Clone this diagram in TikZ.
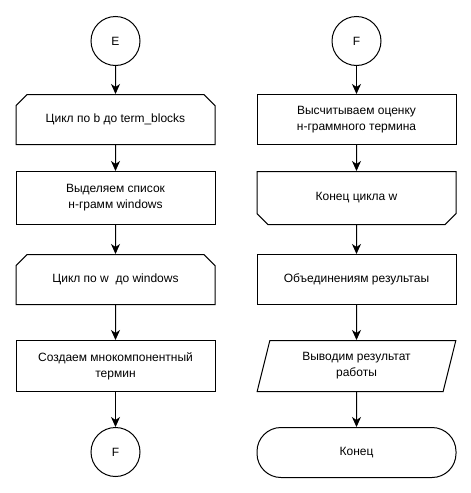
\documentclass[tikz,border=0pt]{standalone}
\usepackage{fontspec}
\setmainfont{Liberation Sans}
\usetikzlibrary{arrows.meta,positioning,shapes.misc,shapes.geometric}
\tikzset{
    %Define standard arrow tip
    >={Stealth[length=10pt,width=9pt,inset=3pt]},
    %Define style for boxes
    punkt/.style={
		rectangle,
		draw=black, line width=1pt,
		minimum width=199pt,
		minimum height=50pt,
		inner sep=2pt,
		align=center,
		font=\fontsize{12}{16}\selectfont},
	%Connector circles
	conn/.style={
		circle,
		draw=black, line width=1pt,
		minimum size=49pt,
		inner sep=0pt,
		font=\fontsize{12}{16}\selectfont},
	%Loop start and loop end
	loopstart/.style={
		punkt,
		chamfered rectangle,
		chamfered rectangle corners={north west,north east},
		chamfered rectangle xsep=9pt},
	loopend/.style={
		punkt,
		chamfered rectangle,
		chamfered rectangle corners={south west,south east},
		chamfered rectangle xsep=9pt},
	%Input/output
	io/.style={
		punkt,
		trapezium,
		trapezium left angle=75,
		trapezium right angle=105,
		trapezium stretches=true},
	%Terminal
	term/.style={
		punkt,
		rounded corners=24pt},
	line/.style = {
		draw,
		line width=1pt,
		->}
}

\begin{document}
\begin{tikzpicture}
			\useasboundingbox (0,0) rectangle (471pt,-493pt);
			% left column
			\node[conn] (E) at (115.5pt,-41pt) {E};
			\node[loopstart, below=28pt of E]	(blocks)	{Цикл по b до term\_blocks};
			\node[punkt, below=26pt of blocks, minimum height=53pt]	(windows)	{Выделяем список\\ н-грамм windows};
			\node[loopstart, below=29pt of windows]	(loopw)	{Цикл по w~ до windows};
			\node[punkt, below=35pt of loopw, minimum height=51pt]	(term)	{Создаем мнокомпонентный\\термин};
			\node[conn, below=35pt of term]	(Fout)	{F};
			% right column
			\node[conn, right=191pt of E]	(Fin)	{F};
			\node[punkt, below=28pt of Fin]	(score)	{Высчитываем оценку\\н-граммного термина};
			\node[loopend, below=26pt of score, minimum height=53pt]	(endw)	{Конец цикла w};
			\node[punkt, below=29pt of endw]	(merge)	{Объединениям результаы};
			\node[io, below=35pt of merge, minimum height=51pt]	(output)	{Выводим результат\\работы};
			\node[term, below=35pt of output]	(stop)	{Конец};
			\path[line]	(E)--(blocks);
			\path[line]	(blocks)--(windows);
			\path[line]	(windows)--(loopw);
			\path[line]	(loopw)--(term);
			\path[line]	(term)--(Fout);
			\path[line]	(Fin)--(score);
			\path[line]	(score)--(endw);
			\path[line]	(endw)--(merge);
			\path[line]	(merge)--(output);
			\path[line]	(output)--(stop);
		\end{tikzpicture}
\end{document}
